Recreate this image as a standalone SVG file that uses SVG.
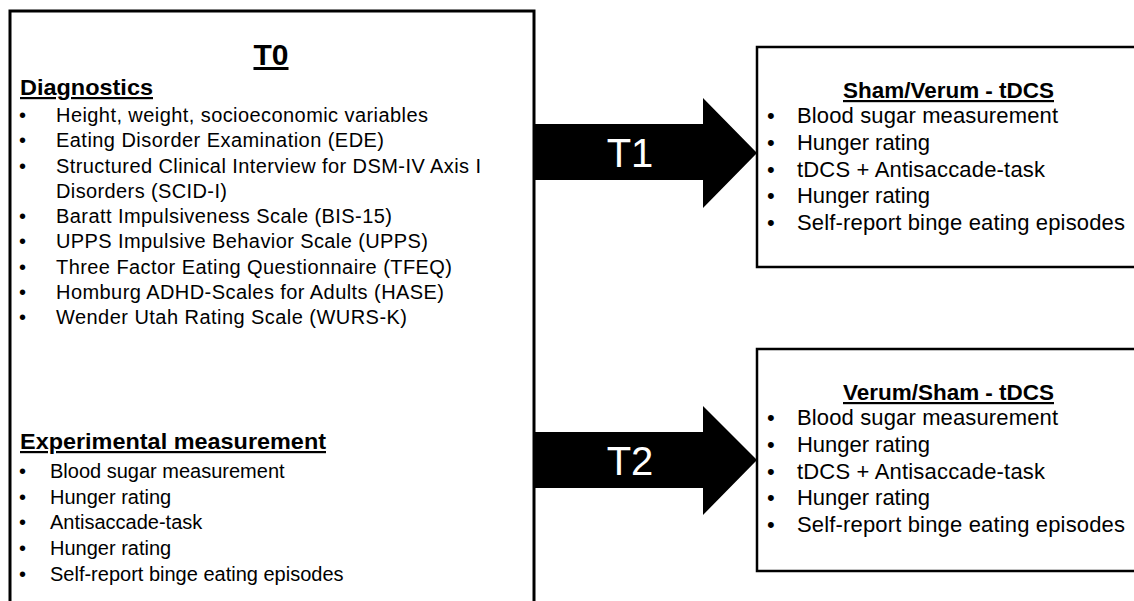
<svg xmlns="http://www.w3.org/2000/svg" width="1134" height="601" viewBox="0 0 1134 601">
<style>
text{font-family:"Liberation Sans",Arial,sans-serif;fill:#000}
.box{fill:#fff;stroke:#000;stroke-width:3}
.rbox{fill:#fff;stroke:#000;stroke-width:2.5}
.h{font-weight:bold;text-decoration:underline}
.l{font-size:20px}
.r{font-size:22px}
.arrow{fill:#000}
.at{fill:#fff;font-size:40px;text-anchor:middle}
</style>
<rect width="1134" height="601" fill="#fff"/>
<g id="t0">
<rect class="box" x="10" y="11" width="524" height="620"/>
<text class="h" x="271" y="65" font-size="30" text-anchor="middle">T0</text>
<text class="h" x="20" y="95" font-size="22" textLength="133" lengthAdjust="spacingAndGlyphs">Diagnostics</text>
<g class="l">
<text x="19" y="122">•</text><text x="56" y="122" textLength="372">Height, weight, socioeconomic variables</text>
<text x="19" y="147">•</text><text x="56" y="147" textLength="328">Eating Disorder Examination (EDE)</text>
<text x="19" y="173">•</text><text x="56" y="173" textLength="425">Structured Clinical Interview for DSM-IV Axis I</text>
<text x="56" y="198" textLength="171">Disorders (SCID-I)</text>
<text x="19" y="222.5">•</text><text x="56" y="222.5" textLength="336">Baratt Impulsiveness Scale (BIS-15)</text>
<text x="19" y="248">•</text><text x="56" y="248" textLength="372">UPPS Impulsive Behavior Scale (UPPS)</text>
<text x="19" y="273.5">•</text><text x="56" y="273.5" textLength="396">Three Factor Eating Questionnaire (TFEQ)</text>
<text x="19" y="299">•</text><text x="56" y="299" textLength="388">Homburg ADHD-Scales for Adults (HASE)</text>
<text x="19" y="324">•</text><text x="56" y="324" textLength="351">Wender Utah Rating Scale (WURS-K)</text>
</g>
<text class="h" x="20" y="449" font-size="22" textLength="306" lengthAdjust="spacingAndGlyphs">Experimental measurement</text>
<g class="l">
<text x="19" y="478">•</text><text x="50" y="478">Blood sugar measurement</text>
<text x="19" y="503.5">•</text><text x="50" y="503.5">Hunger rating</text>
<text x="19" y="529">•</text><text x="50" y="529">Antisaccade-task</text>
<text x="19" y="555">•</text><text x="50" y="555">Hunger rating</text>
<text x="19" y="581">•</text><text x="50" y="581">Self-report binge eating episodes</text>
</g>
</g>
<g id="t1">
<rect class="rbox" x="757" y="47" width="420" height="220"/>
<text class="h" x="843" y="98" font-size="22" textLength="211" lengthAdjust="spacingAndGlyphs">Sham/Verum - tDCS</text>
<g class="r">
<text x="767" y="123">•</text><text x="797" y="123" textLength="261">Blood sugar measurement</text>
<text x="767" y="150">•</text><text x="797" y="150" textLength="133">Hunger rating</text>
<text x="767" y="177">•</text><text x="797" y="177" textLength="248">tDCS + Antisaccade-task</text>
<text x="767" y="203">•</text><text x="797" y="203" textLength="133">Hunger rating</text>
<text x="767" y="230">•</text><text x="797" y="230" textLength="328">Self-report binge eating episodes</text>
</g>
</g>
<g id="t2">
<rect class="rbox" x="757" y="349" width="420" height="222"/>
<text class="h" x="843" y="400" font-size="22" textLength="211" lengthAdjust="spacingAndGlyphs">Verum/Sham - tDCS</text>
<g class="r">
<text x="767" y="425">•</text><text x="797" y="425" textLength="261">Blood sugar measurement</text>
<text x="767" y="452">•</text><text x="797" y="452" textLength="133">Hunger rating</text>
<text x="767" y="479">•</text><text x="797" y="479" textLength="248">tDCS + Antisaccade-task</text>
<text x="767" y="505">•</text><text x="797" y="505" textLength="133">Hunger rating</text>
<text x="767" y="532">•</text><text x="797" y="532" textLength="328">Self-report binge eating episodes</text>
</g>
</g>
<g id="connectors">
<polygon class="arrow" points="534,124 703,124 703,98 757,153 703,208 703,180 534,180"/>
<text class="at" x="630" y="167">T1</text>
<polygon class="arrow" points="534,432 703,432 703,406 757,460 703,515 703,488 534,488"/>
<text class="at" x="630" y="475">T2</text>
</g>
</svg>
